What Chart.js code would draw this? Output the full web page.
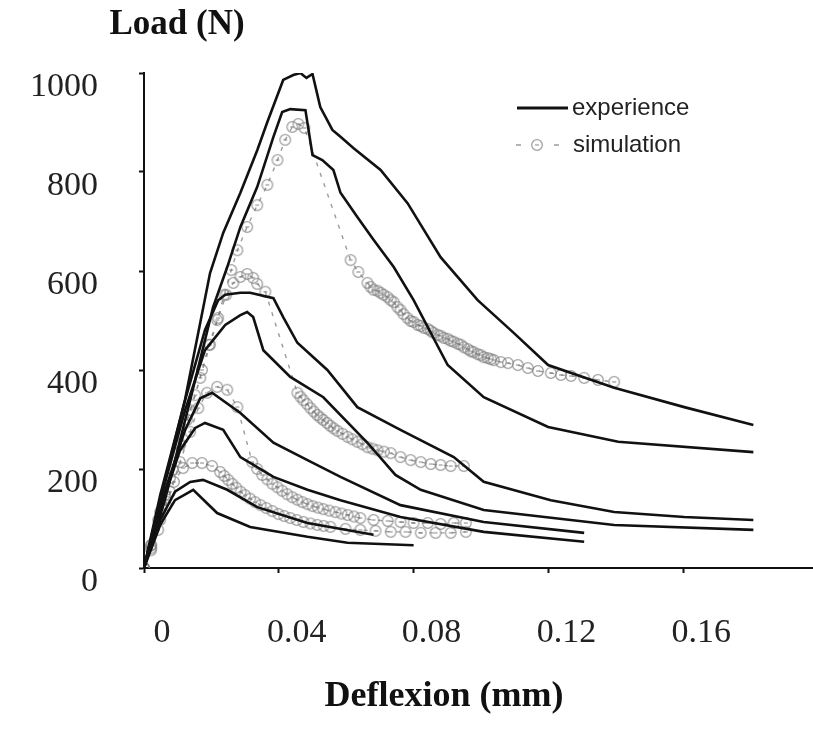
<!DOCTYPE html>
<html>
<head>
<meta charset="utf-8">
<script src="https://cdn.jsdelivr.net/npm/chart.js@4.4.0/dist/chart.umd.min.js"></script>
<style>
    html, body { margin: 0; padding: 0; background: #fff; }
</style>
</head>
<body>
<canvas id="GraficoFlexao" width="813" height="729"></canvas>
<script>
// eixos
var xTicks = [0, 0.04, 0.08, 0.12, 0.16];
var xTickLabels = ['0', '0.04', '0.08', '0.12', '0.16'];
var yTicks = [0, 200, 400, 600, 800, 1000];
var yTickLabels = ['0', '200', '400', '600', '800', '1000'];
var tituloX = 'Deflexion (mm)';
var tituloY = 'Load (N)';
var nomesSeries = ['experience', 'simulation'];

// experience (deflexion mm / load N)
var exp1X = [0, 0.0048, 0.0122, 0.0196, 0.0235, 0.0286, 0.0336, 0.0366, 0.0413, 0.0443, 0.0464, 0.0482, 0.0500, 0.0523, 0.0559, 0.0583, 0.0622, 0.0702, 0.0782, 0.0880, 0.0990, 0.1097, 0.1199, 0.1395, 0.1603, 0.1808];
var exp1Y = [0, 137, 341, 596, 677, 758, 844, 901, 986, 996, 1000, 990, 998, 931, 885, 871, 848, 804, 737, 628, 541, 475, 410, 364, 325, 289];
var exp2X = [0, 0.0062, 0.0137, 0.0205, 0.0247, 0.0286, 0.0336, 0.0384, 0.0410, 0.0434, 0.0479, 0.0500, 0.0529, 0.0562, 0.0583, 0.0633, 0.0681, 0.0741, 0.0800, 0.0901, 0.1008, 0.1199, 0.1407, 0.1808];
var exp2Y = [0, 137, 339, 527, 608, 689, 770, 871, 921, 927, 925, 834, 824, 804, 758, 709, 663, 608, 541, 410, 345, 285, 255, 234];
var exp3X = [0, 0.0048, 0.0122, 0.0181, 0.0220, 0.0241, 0.0286, 0.0315, 0.0384, 0.0413, 0.0455, 0.0544, 0.0633, 0.0761, 0.0919, 0.1008, 0.1207, 0.1395, 0.1603, 0.1808];
var exp3Y = [0, 147, 339, 481, 541, 552, 556, 556, 545, 507, 455, 400, 325, 279, 224, 174, 137, 113, 103, 97];
var exp4X = [0, 0.0048, 0.0122, 0.0181, 0.0241, 0.0286, 0.0306, 0.0324, 0.0354, 0.0434, 0.0532, 0.0663, 0.0746, 0.0821, 0.1008, 0.1395, 0.1808];
var exp4Y = [0, 137, 319, 440, 491, 511, 517, 507, 440, 386, 345, 253, 188, 158, 117, 87, 77];
var exp5X = [0, 0.0048, 0.0122, 0.0167, 0.0202, 0.0286, 0.0384, 0.0485, 0.0583, 0.0761, 0.1008, 0.1306];
var exp5Y = [0, 127, 279, 343, 354, 313, 253, 218, 184, 127, 93, 71];
var exp6X = [0, 0.0048, 0.0107, 0.0152, 0.0181, 0.0235, 0.0286, 0.0384, 0.0485, 0.0583, 0.0761, 0.1008, 0.1306];
var exp6Y = [0, 117, 238, 283, 293, 279, 224, 184, 158, 137, 103, 73, 53];
var exp7X = [0, 0.0048, 0.0092, 0.0137, 0.0175, 0.0247, 0.0336, 0.0485, 0.0681];
var exp7Y = [0, 97, 154, 174, 178, 158, 123, 91, 67];
var exp8X = [0, 0.0048, 0.0092, 0.0146, 0.0217, 0.0315, 0.0485, 0.0604, 0.0800];
var exp8Y = [0, 87, 137, 158, 111, 83, 63, 51, 46];

// simulation
var sim1X = [0, 0.0021, 0.0042, 0.0062, 0.0086, 0.0107, 0.0128, 0.0152, 0.0172, 0.0193, 0.0217, 0.0238, 0.0259, 0.0277, 0.0306, 0.0336, 0.0366, 0.0396, 0.0419, 0.0440, 0.0458, 0.0476,
    0.0613, 0.0636, 0.0663, 0.0672, 0.0681, 0.0693, 0.0702, 0.0711, 0.0723, 0.0732, 0.0741, 0.0752, 0.0761, 0.0770, 0.0782, 0.0791, 0.0800, 0.0812, 0.0821, 0.0830, 0.0842, 0.0851, 0.0859, 0.0871,
    0.0880, 0.0889, 0.0901, 0.0910, 0.0919, 0.0931, 0.0940, 0.0949, 0.0961, 0.0970, 0.0978, 0.0990, 0.0999, 0.1008, 0.1020, 0.1029, 0.1038, 0.1059, 0.1080, 0.1109, 0.1139, 0.1169, 0.1207,
    0.1237, 0.1267, 0.1306, 0.1347, 0.1395];
var sim1Y = [0, 46, 97, 147, 198, 248, 299, 349, 400, 451, 501, 552, 602, 642, 689, 733, 774, 824, 865, 891, 897, 889,
    622, 598, 576, 568, 562, 560, 556, 552, 547, 541, 537, 527, 521, 513, 505, 499, 497, 491, 489, 485, 483, 479, 475, 471,
    469, 465, 463, 459, 457, 453, 451, 446, 442, 438, 436, 432, 430, 426, 424, 422, 420, 416, 414, 410, 404, 398, 394,
    390, 388, 384, 380, 376];
var sim2X = [0, 0.0021, 0.0048, 0.0077, 0.0107, 0.0137, 0.0167, 0.0196, 0.0220, 0.0244, 0.0265, 0.0286, 0.0306, 0.0324, 0.0336, 0.0360,
    0.0455, 0.0464, 0.0473, 0.0484, 0.0494, 0.0504, 0.0514, 0.0523, 0.0532, 0.0543, 0.0553, 0.0563, 0.0574, 0.0589, 0.0604, 0.0618, 0.0633, 0.0648, 0.0663, 0.0678, 0.0693, 0.0712,
    0.0732, 0.0761, 0.0791, 0.0821, 0.0851, 0.0880, 0.0910, 0.0949];
var sim2Y = [0, 46, 113, 182, 251, 319, 384, 451, 505, 552, 576, 588, 594, 586, 574, 558,
    354, 346, 339, 331, 323, 316, 309, 304, 299, 293, 287, 282, 277, 271, 265, 260, 255, 250, 244, 241, 238, 235,
    232, 224, 218, 214, 210, 208, 206, 206];
var sim3X = [0, 0.0021, 0.0048, 0.0077, 0.0107, 0.0137, 0.0161, 0.0187, 0.0217, 0.0247, 0.0277,
    0.0321, 0.0336, 0.0351, 0.0366, 0.0381, 0.0396, 0.0410, 0.0425, 0.0440, 0.0455, 0.0470, 0.0485, 0.0500, 0.0516, 0.0532, 0.0550, 0.0568, 0.0586, 0.0604, 0.0623, 0.0642,
    0.0681, 0.0723, 0.0761, 0.0800, 0.0842, 0.0880, 0.0919, 0.0955];
var sim3Y = [0, 40, 97, 154, 214, 275, 323, 354, 366, 360, 325,
    214, 200, 188, 179, 170, 163, 156, 149, 143, 138, 133, 129, 125, 122, 119, 116, 113, 110, 107, 104, 101,
    97, 95, 93, 91, 91, 89, 91, 91];
var sim4X = [0, 0.0021, 0.0042, 0.0065, 0.0089, 0.0116, 0.0143, 0.0172, 0.0202, 0.0226, 0.0238, 0.0250, 0.0262, 0.0274, 0.0287, 0.0300, 0.0315, 0.0330, 0.0346, 0.0363, 0.0381,
    0.0399, 0.0416, 0.0434, 0.0453, 0.0473, 0.0494, 0.0514, 0.0533, 0.0553, 0.0598, 0.0642, 0.0687, 0.0732, 0.0776, 0.0821, 0.0865, 0.0910, 0.0955];
var sim4Y = [0, 36, 77, 127, 174, 202, 212, 212, 206, 194, 186, 178, 170, 162, 154, 147, 140, 133, 127, 121, 115,
    109, 105, 101, 97, 93, 90, 87, 85, 83, 79, 77, 75, 73, 73, 71, 71, 71, 73];

function Pares(xs, ys) {
    return xs.map(function (x, i) { return { x: x, y: ys[i] }; });
}

// marcador da simulação: circulo com ponto no centro
var marca = document.createElement('canvas');
marca.width = 14;
marca.height = 14;
var mctx = marca.getContext('2d');
mctx.strokeStyle = 'rgba(120,120,120,0.7)';
mctx.lineWidth = 1.3;
mctx.beginPath();
mctx.arc(7, 7, 5.3, 0, Math.PI * 2);
mctx.stroke();
mctx.fillStyle = 'rgba(120,120,120,0.65)';
mctx.fillRect(5, 6.3, 4, 1.4);

function SerieExp(xs, ys) {
    return {
        label: nomesSeries[0],
        data: Pares(xs, ys),
        borderColor: '#111',
        borderWidth: 2.6,
        pointRadius: 0,
        tension: 0,
        order: 0
    };
}

function SerieSim(xs, ys) {
    return {
        label: nomesSeries[1],
        data: Pares(xs, ys),
        borderColor: 'rgba(130,130,130,0.8)',
        borderWidth: 1.4,
        borderDash: [4, 7],
        pointStyle: marca,
        pointRadius: 6,
        tension: 0,
        order: 1
    };
}

var textos = {
    id: 'textos',
    afterDraw: function (chart) {
        var c = chart.ctx;
        c.save();
        c.fillStyle = '#111';
        c.textAlign = 'center';
        c.textBaseline = 'middle';
        c.font = 'bold 35px "Liberation Serif"';
        c.fillText(tituloY, 177, 25);
        c.font = 'bold 36px "Liberation Serif"';
        c.fillText(tituloX, 444, 697);

        // legenda
        c.strokeStyle = '#111';
        c.lineWidth = 3;
        c.beginPath();
        c.moveTo(517, 108);
        c.lineTo(568, 108);
        c.stroke();
        c.strokeStyle = 'rgba(130,130,130,0.8)';
        c.lineWidth = 1.4;
        c.beginPath();
        c.moveTo(516, 145); c.lineTo(521, 145);
        c.moveTo(554, 145); c.lineTo(559, 145);
        c.stroke();
        c.drawImage(marca, 530, 138);
        c.fillStyle = '#222';
        c.textAlign = 'left';
        c.font = '24px "Liberation Sans"';
        c.fillText(nomesSeries[0], 572, 108);
        c.fillText(nomesSeries[1], 573, 145);
        c.restore();
    }
};

var fonteEixo = { family: '"Liberation Serif"', size: 34 };

var ctx = document.getElementById('GraficoFlexao').getContext('2d');
var grafico = new Chart(ctx, {
    type: 'line',
    data: {
        datasets: [
            SerieExp(exp1X, exp1Y), SerieExp(exp2X, exp2Y), SerieExp(exp3X, exp3Y), SerieExp(exp4X, exp4Y),
            SerieExp(exp5X, exp5Y), SerieExp(exp6X, exp6Y), SerieExp(exp7X, exp7Y), SerieExp(exp8X, exp8Y),
            SerieSim(sim1X, sim1Y), SerieSim(sim2X, sim2Y), SerieSim(sim3X, sim3Y), SerieSim(sim4X, sim4Y)
        ]
    },
    options: {
        responsive: false,
        animation: false,
        layout: { autoPadding: false, padding: { top: 73, left: 0, right: 0, bottom: 0 } },
        plugins: {
            legend: { display: false },
            tooltip: { enabled: false }
        },
        scales: {
            x: {
                type: 'linear',
                min: 0,
                max: 0.1985,
                afterBuildTicks: function (s) { s.ticks = xTicks.map(function (v) { return { value: v }; }); },
                afterFit: function (s) { s.height = 161; },
                border: { color: '#111', width: 2 },
                grid: { drawOnChartArea: false, tickLength: 5, tickColor: '#111', tickWidth: 2 },
                ticks: {
                    callback: function (v, i) { return xTickLabels[i]; },
                    font: fonteEixo,
                    color: '#222',
                    padding: 40,
                    labelOffset: 18,
                    maxRotation: 0,
                    autoSkip: false
                }
            },
            y: {
                min: 0,
                max: 1000,
                afterBuildTicks: function (s) { s.ticks = yTicks.map(function (v) { return { value: v }; }); },
                afterFit: function (s) { s.width = 144; },
                border: { color: '#111', width: 2 },
                grid: { drawOnChartArea: false, tickLength: 5, tickColor: '#111', tickWidth: 2 },
                ticks: {
                    callback: function (v, i) { return yTickLabels[i]; },
                    font: fonteEixo,
                    color: '#222',
                    padding: 41,
                    labelOffset: 14,
                    autoSkip: false
                }
            }
        }
    },
    plugins: [textos]
});
</script>
</body>
</html>
